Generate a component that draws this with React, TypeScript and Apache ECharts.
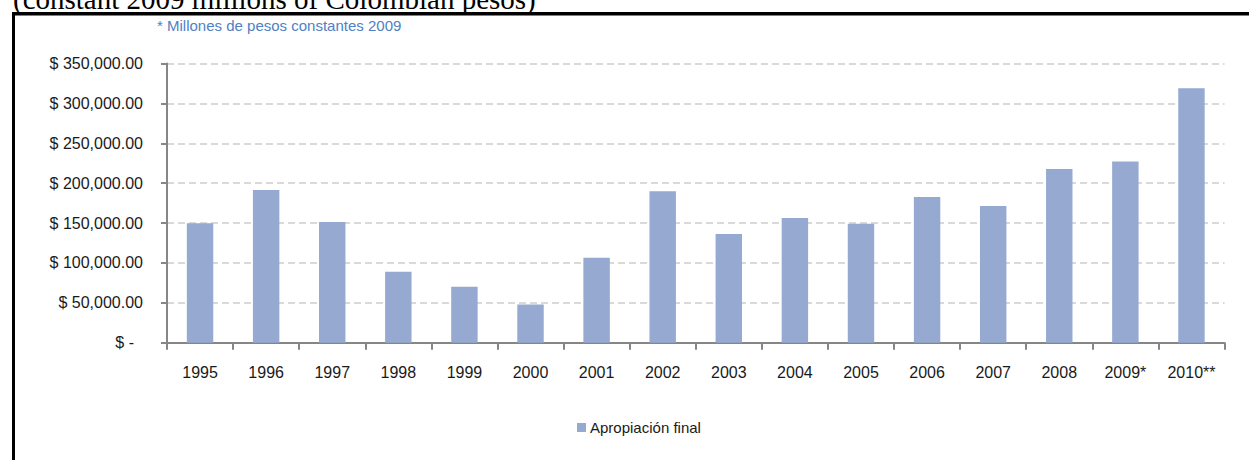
import React, { useEffect, useRef } from "react";
import * as echarts from "echarts";

const categories = ["1995", "1996", "1997", "1998", "1999", "2000", "2001", "2002", "2003", "2004", "2005", "2006", "2007", "2008", "2009*", "2010**"];
const apropiacionFinal = [149600, 191300, 151200, 88800, 70000, 47800, 106500, 189700, 136200, 156200, 149100, 182500, 171500, 217900, 227000, 319000];
const seriesName = "Apropiación final";
const subtitle = "* Millones de pesos constantes 2009";
const topCaption = "(constant 2009 millions of Colombian pesos)";

function fmt(v: number): string {
  if (v === 0) return "{z|$ -}";
  const s = v.toLocaleString("en-US", { minimumFractionDigits: 2, maximumFractionDigits: 2 });
  return "$ " + s;
}

export default function App() {
  const ref = useRef<HTMLDivElement>(null);
  useEffect(() => {
    if (!ref.current) return;
    const chart = echarts.init(ref.current, null, { renderer: "svg" });
    const font = "'Liberation Sans', Arial, sans-serif";
    chart.setOption({
      animation: false,
      backgroundColor: "#ffffff",
      textStyle: { fontFamily: font },
      grid: { left: 167, right: 24.5, top: 63.5, bottom: 117.3, containLabel: false },
      legend: {
        data: [seriesName],
        left: 572,
        top: 415,
        icon: "rect",
        itemWidth: 9,
        itemHeight: 9,
        itemGap: 10,
        textStyle: { fontFamily: font, fontSize: 15, color: "#1a1a1a", padding: [0, 0, 0, -1] },
      },
      xAxis: {
        type: "category",
        data: categories,
        axisLine: { lineStyle: { color: "#868686", width: 2 } },
        axisTick: { show: true, length: 7, lineStyle: { color: "#868686", width: 2 } },
        axisLabel: { fontFamily: font, fontSize: 16, color: "#1a1a1a", margin: 22, interval: 0 },
        splitLine: { show: false },
      },
      yAxis: {
        type: "value",
        min: 0,
        max: 350000,
        interval: 50000,
        axisLine: { show: true, lineStyle: { color: "#868686", width: 2 } },
        axisTick: { show: true, length: 6, lineStyle: { color: "#868686", width: 2 } },
        axisLabel: {
          fontFamily: font,
          fontSize: 16,
          color: "#1a1a1a",
          margin: 24,
          formatter: (v: number) => fmt(v),
          rich: { z: { fontFamily: font, fontSize: 16, color: "#1a1a1a", padding: [0, 9, 0, 0] } },
        },
        splitLine: { show: true, lineStyle: { color: "#d9d9d9", width: 2, type: [7, 4] } },
      },
      series: [
        {
          name: seriesName,
          type: "bar",
          data: apropiacionFinal,
          barWidth: "40%",
          itemStyle: { color: "#95a9d1" },
        },
      ],
      graphic: [
        { type: "rect", shape: { x: 12, y: 12, width: 3, height: 460 }, style: { fill: "#000" }, silent: true },
        { type: "rect", shape: { x: 12, y: 12, width: 1250, height: 3.5 }, style: { fill: "#000" }, silent: true },
        {
          type: "text",
          x: 13,
          y: -1.5,
          style: {
            text: topCaption,
            fontFamily: "'Liberation Serif', 'Times New Roman', serif",
            fontSize: 29,
            fill: "#000",
            verticalAlign: "middle",
            align: "left",
          },
          silent: true,
        },
        {
          type: "text",
          x: 157,
          y: 25,
          style: {
            text: subtitle,
            fontFamily: font,
            fontSize: 15,
            fill: "#4f81c4",
            verticalAlign: "middle",
            align: "left",
          },
          silent: true,
        },
      ],
    });
    return () => chart.dispose();
  }, []);
  return <div ref={ref} style={{ position: "fixed", left: 0, top: 0, width: 1249, height: 460 }} />;
}
